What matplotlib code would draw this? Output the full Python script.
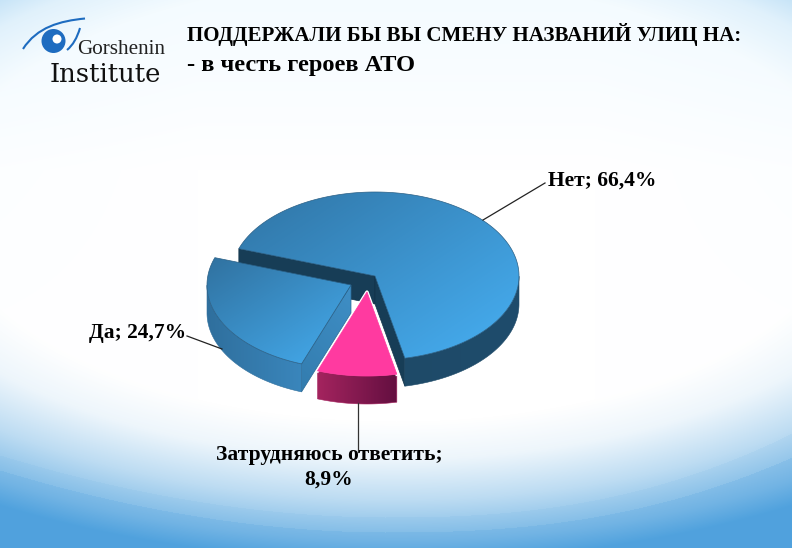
import numpy as np
import matplotlib
matplotlib.use("Agg")
import matplotlib.pyplot as plt
from matplotlib.patches import Polygon, Circle, PathPatch
from matplotlib.path import Path
from matplotlib.colors import LinearSegmentedColormap as LSC

# ---- data ----
categories = ["Нет", "Затрудняюсь ответить", "Да"]
shares = [66.4, 8.9, 24.7]
value_labels = ["66,4%", "8,9%", "24,7%"]
title_lines = ["ПОДДЕРЖАЛИ БЫ ВЫ СМЕНУ НАЗВАНИЙ УЛИЦ НА:", "- в честь героев АТО"]

# ---- style / layout ----
W, H = 792, 548
RX, RY, DEPTH = 144, 84, 28
START = 161
apexes = [(375, 276), (367, 292), (351, 285)]
top_cols = [("#3074A4", "#47B0F4"), ("#FF3AA0", "#FF3AA0"), ("#30719F", "#45ADF0")]
side_cols = [("#1E4A68", "#1F4C6C"), ("#A5245F", "#630F40"), ("#2F6F9D", "#3A86BC")]
FONT = "Liberation Serif"

fig = plt.figure(figsize=(W / 100, H / 100), dpi=100)
ax = fig.add_axes([0, 0, 1, 1])
ax.set_xlim(0, W); ax.set_ylim(H, 0); ax.axis("off")

# ---- background ----
yy, xx = np.mgrid[0:H, 0:W].astype(float)
glow = np.sqrt(((xx - 396) / 700) ** 2 + ((yy - 200) / 340) ** 2)
t = np.interp(glow, [0.65, 0.76, 0.88, 1.0, 1.06], [0, 0.10, 0.38, 0.75, 1.0])
c_white = np.array([1.0, 1.0, 1.0]); c_blue = np.array([0.32, 0.64, 0.87])
bg = c_white * (1 - t[..., None]) + c_blue * t[..., None]
tint = np.clip(1 - yy / 170, 0, 1) * 0.6 + np.clip(np.abs(xx - 396) / 396 - 0.5, 0, 1) * np.clip(1 - yy / 400, 0, 1) * 0.5
bg = bg - tint[..., None] * np.array([0.07, 0.025, 0.0])
def curve(x, y0, ymid, y1, xm=385):
    return np.where(x < xm, ymid + (y0 - ymid) * ((xm - x) / xm) ** 1.9,
                    ymid + (y1 - ymid) * ((x - xm) / (W - xm)) ** 2.4)
c1 = yy > curve(xx, 455, 517, 433)
c2 = yy > curve(xx, 470, 532, 457)
bg[c1] = bg[c1] * 0.93 + np.array([0.30, 0.62, 0.86]) * 0.07
bg[c2] = bg[c2] * 0.82 + np.array([0.30, 0.62, 0.87]) * 0.18
ax.imshow(np.clip(bg, 0, 1), extent=(0, W, H, 0), aspect="auto", zorder=0, interpolation="bilinear")

def grad(poly, c0, c1, direction, z):
    """Fill a polygon with a linear gradient along direction."""
    patch = Polygon(poly, closed=True, fc="none", ec="none", zorder=z)
    ax.add_patch(patch)
    x0, y0 = poly.min(0); x1, y1 = poly.max(0)
    gy, gx = np.mgrid[int(y0) - 1:int(y1) + 2, int(x0) - 1:int(x1) + 2].astype(float)
    p = gx * direction[0] + gy * direction[1]
    p = (p - p.min()) / max(p.max() - p.min(), 1)
    im = ax.imshow(p, cmap=LSC.from_list("g", [c0, c1]), vmin=0, vmax=1,
                   extent=(gx.min(), gx.max() + 1, gy.max() + 1, gy.min()),
                   aspect="auto", zorder=z, interpolation="bilinear")
    im.set_clip_path(patch)

def rim(apex, a):
    a = np.radians(a)
    return np.c_[apex[0] + RX * np.cos(a), apex[1] - RY * np.sin(a)]

# angles from the shares, clockwise
spans = np.array(shares) / sum(shares) * 360
edges = START - np.r_[0, np.cumsum(spans)]

for i in range(len(shares)):
    a0, a1 = edges[i], edges[i + 1]
    ap = np.array(apexes[i], float)
    z = 2 + i * 2
    down = np.array([0, DEPTH])
    arc = rim(ap, np.linspace(a0, a1, 200))
    top = np.vstack([ap, arc])

    # straight cut faces
    if i == 0:
        for p in (arc[0], arc[-1]):
            f = np.array([ap, p, p + down, ap + down])
            ax.add_patch(Polygon(f, closed=True, fc="#173D56", ec="#12334A", lw=0.5, zorder=z))
    if i == 2:
        p = arc[0]
        f = np.array([ap, p, p + down, ap + down])
        grad(f, "#337CAE", "#3F8FC6", (1, -1), z)
        ax.add_patch(Polygon(f, closed=True, fc="none", ec="#2A6A96", lw=0.5, zorder=z))

    # front rim: only the part below the ellipse centre
    ang = np.linspace(a0, a1, 400)
    norm = (ang + 360) % 360
    front = ang[(norm >= 180) & (norm <= 360)]
    if len(front):
        s = rim(ap, front)
        side = np.vstack([s, (s + down)[::-1]])
        grad(side, side_cols[i][0], side_cols[i][1], (1, 0), z)
        ax.add_patch(Polygon(side, closed=True, fc="none", ec=side_cols[i][0], lw=0.4, zorder=z))

    # white edges along the cuts of the small slice
    if i == 1:
        ax.plot(top[[1, 0, -1], 0], top[[1, 0, -1], 1], color="white", lw=2.4, zorder=z)
    grad(top, top_cols[i][0], top_cols[i][1], (0.55, 0.83), z + 0.5)
    ax.add_patch(Polygon(top, closed=True, fc="none",
                         ec="#FF3AA0" if i == 1 else "#2A5F85", lw=0.5, zorder=z + 0.6))

# ---- leaders and labels ----
lw = dict(color="#222222", lw=0.9, zorder=9)
ax.plot([483, 545], [220, 183], **lw)
ax.plot([187, 222], [336, 349], **lw)
ax.plot([358, 358], [403, 452], color="#333333", lw=0.9, zorder=9)

txt = dict(family=FONT, weight="bold", color="black", zorder=10, fontsize=15.5)
ax.text(548, 181, f"{categories[0]}; {value_labels[0]}", ha="left", va="center", **txt)
ax.text(186, 333, f"{categories[2]}; {value_labels[2]}", ha="right", va="center", **txt)
ax.text(329, 455, f"{categories[1]};", ha="center", va="center", **txt)
ax.text(329, 480, value_labels[1], ha="center", va="center", **txt)

# ---- title ----
ttl = dict(family=FONT, weight="bold", color="black", ha="left", va="center", zorder=10)
ax.text(187, 34, title_lines[0], fontsize=15.1, **ttl)
ax.text(187, 65, title_lines[1], fontsize=17.6, **ttl)

# ---- logo ----
blue = "#1E6CC0"
ax.add_patch(Circle((53.5, 41), 12, fc=blue, ec="none", zorder=10))
ax.add_patch(Circle((57, 39), 4.5, fc="white", ec="none", zorder=11))
ax.add_patch(PathPatch(Path([(23, 49), (37, 27), (60, 21), (85, 18.5)], [1, 4, 4, 4]),
                       fc="none", ec=blue, lw=1.5, zorder=10))
ax.add_patch(PathPatch(Path([(67, 50), (73, 45), (77, 38), (80, 28)], [1, 4, 4, 4]),
                       fc="none", ec=blue, lw=1.5, zorder=10))
ax.text(77, 50, "Gorshenin", family=FONT, fontsize=15.2, color="#222222", ha="left", va="center", zorder=10)
ax.text(50, 74, "Institute", family="DejaVu Serif", fontsize=18.6, color="#111111", ha="left", va="center", zorder=10)

fig.savefig("out.png", dpi=100)
